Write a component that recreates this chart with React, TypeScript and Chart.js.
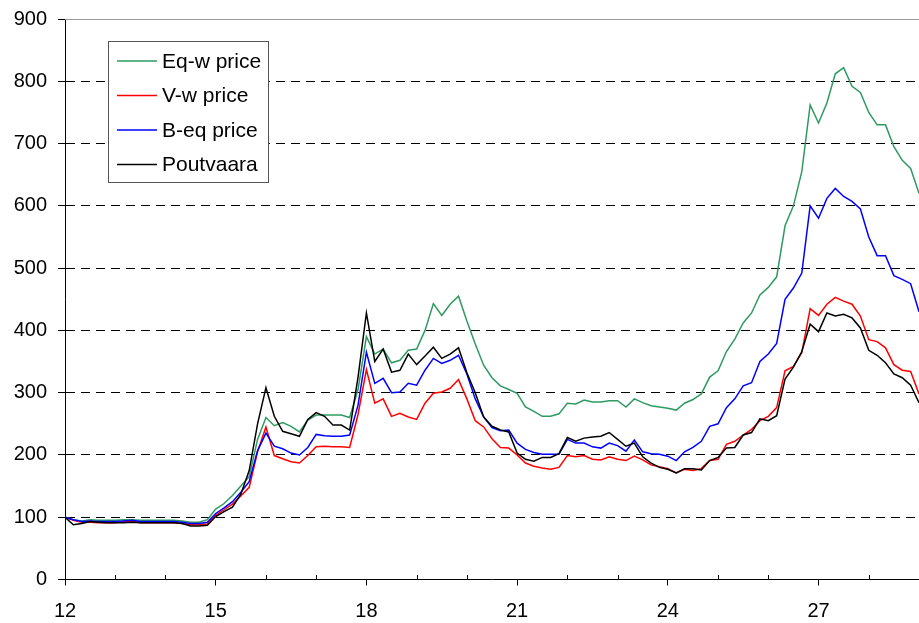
import React, { useEffect, useRef } from "react";
import { Chart, registerables } from "chart.js";

Chart.register(...registerables);

// x grid: one observation every 1/6 unit, from 12 to 29
const X_START = 12;
const X_STEP = 1 / 6;

const seriesNames = ["Eq-w price", "V-w price", "B-eq price", "Poutvaara"];
const seriesColors = ["#2E9A62", "#FF0000", "#0000FF", "#000000"];
const xTickLabels = [12, 15, 18, 21, 24, 27];

const eqwPrice = [
  100, 96, 94, 96, 95, 95, 95, 96, 96, 95, 95, 95, 95, 95, 94, 92, 92, 96,
  113, 122, 135, 150, 165, 225, 260, 247, 252, 246, 237, 256, 264, 264, 264, 264, 260, 305,
  390, 362, 370, 348, 352, 368, 370, 400, 443, 424, 442, 455, 415, 378, 344, 324, 311, 305,
  299, 277, 270, 262, 262, 266, 283, 282, 288, 285, 285, 287, 287, 277, 290, 284, 279, 277,
  275, 272, 283, 289, 298, 325, 335, 366, 386, 412, 428, 457, 469, 486, 568, 600, 655,
  762, 733, 765, 812, 822, 792, 782, 750, 730, 730, 695, 673, 660, 620,
];

const vwPrice = [
  100, 95, 92, 92, 91, 91, 91, 93, 94, 91, 91, 91, 91, 91, 90, 88, 88, 89,
  103, 112, 121, 134, 148, 205, 245, 199, 194, 189, 187, 199, 213, 214, 213, 213, 212, 265,
  337, 283, 290, 262, 267, 261, 257, 283, 299, 301, 307, 321, 290, 255, 245, 226, 212, 211,
  200, 187, 182, 179, 177, 180, 199, 197, 199, 193, 192, 197, 193, 191, 198, 192, 184, 181,
  178, 171, 177, 175, 178, 191, 193, 217, 222, 232, 241, 255, 262, 276, 335, 342, 364,
  435, 424, 442, 453, 447, 442, 423, 385, 382, 372, 345, 336, 334, 298,
];

const beqPrice = [
  100, 96, 93, 94, 93, 93, 93, 94, 95, 93, 93, 93, 93, 93, 92, 90, 90, 92,
  106, 115, 125, 140, 157, 207, 235, 214, 210, 203, 200, 212, 233, 231, 230, 230, 232, 280,
  365, 315, 323, 300, 301, 315, 312, 336, 355, 347, 352, 360, 330, 290, 261, 244, 239, 240,
  219, 209, 204, 201, 201, 201, 225, 219, 219, 213, 211, 219, 215, 206, 224, 205, 202, 201,
  198, 191, 205, 212, 222, 246, 250, 276, 290, 311, 316, 350, 362, 379, 450, 468, 492,
  600, 580, 612, 628, 615, 607, 595, 550, 520, 520, 488, 482, 475, 430,
];

const poutvaara = [
  100, 88, 90, 93, 92, 91, 91, 91, 92, 91, 91, 91, 91, 91, 90, 86, 86, 87,
  101, 109, 116, 137, 175, 250, 308, 262, 238, 234, 230, 257, 268, 262, 248, 248, 240, 325,
  428, 350, 370, 333, 336, 362, 345, 359, 373, 355, 362, 372, 332, 300, 261, 246, 240, 237,
  203, 193, 190, 196, 196, 202, 228, 222, 227, 229, 230, 236, 225, 214, 219, 197, 187, 180,
  177, 171, 178, 178, 176, 191, 196, 211, 212, 232, 236, 258, 255, 263, 322, 341, 366,
  410, 398, 428, 423, 426, 420, 404, 368, 360, 348, 330, 324, 312, 284,
];

const allSeries = [eqwPrice, vwPrice, beqPrice, poutvaara];

const FONT = "'Liberation Sans', Arial, Helvetica, sans-serif";

function toPoints(vals: number[]) {
  return vals.map((v, i) => ({ x: X_START + i * X_STEP, y: v }));
}

const decorPlugin = {
  id: "decor",
  afterDraw(chart: any) {
    const { ctx, chartArea, scales } = chart;
    const xs = scales.x;
    ctx.save();
    // solid grey top line (at 900)
    ctx.strokeStyle = "#9a9a9a";
    ctx.lineWidth = 1;
    ctx.setLineDash([]);
    const topY = Math.round(chartArea.top) + 0.5;
    ctx.beginPath();
    ctx.moveTo(chartArea.left, topY);
    ctx.lineTo(chartArea.right, topY);
    ctx.stroke();

    // minor inward ticks on x axis
    ctx.strokeStyle = "#000";
    const bottom = Math.round(chartArea.bottom);
    ctx.beginPath();
    for (let v = X_START + 1; v < 29; v++) {
      if (xTickLabels.includes(v)) continue;
      const px = Math.round(xs.getPixelForValue(v)) + 0.5;
      ctx.moveTo(px, bottom);
      ctx.lineTo(px, bottom - 5);
    }
    ctx.stroke();

    // legend box
    const bx = 108.5, by = 41.5, bw = 160, bh = 141;
    ctx.fillStyle = "#fff";
    ctx.fillRect(bx, by, bw, bh);
    ctx.strokeStyle = "#555";
    ctx.lineWidth = 1;
    ctx.strokeRect(bx, by, bw, bh);
    ctx.font = `21px ${FONT}`;
    ctx.textBaseline = "middle";
    ctx.textAlign = "left";
    chart.data.datasets.forEach((ds: any, i: number) => {
      const y = 61 + i * 34.5;
      ctx.strokeStyle = ds.borderColor;
      ctx.lineWidth = 1.5;
      ctx.beginPath();
      ctx.moveTo(117, y);
      ctx.lineTo(157, y);
      ctx.stroke();
      ctx.fillStyle = "#000";
      ctx.fillText(ds.label, 162, y + 1);
    });
    ctx.restore();
  },
};

export default function App() {
  const canvasRef = useRef<HTMLCanvasElement | null>(null);

  useEffect(() => {
    if (!canvasRef.current) return;
    const drawOrder = [3, 2, 1, 0];
    const chart = new Chart(canvasRef.current, {
      type: "line",
      data: {
        datasets: allSeries.map((vals, i) => ({
          label: seriesNames[i],
          data: toPoints(vals),
          borderColor: seriesColors[i],
          backgroundColor: seriesColors[i],
          borderWidth: 1.5,
          pointRadius: 0,
          tension: 0,
          fill: false,
          order: drawOrder[i],
        })),
      },
      options: {
        responsive: false,
        maintainAspectRatio: false,
        animation: false,
        layout: { padding: { top: 19, left: 0, right: 0, bottom: 0 } },
        plugins: {
          legend: { display: false },
          tooltip: { enabled: false },
        },
        scales: {
          x: {
            type: "linear",
            min: 12,
            max: 29,
            afterFit: (s: any) => {
              s.height = 43.5;
              s.paddingRight = 0;
              s.paddingLeft = 0;
            },
            ticks: {
              stepSize: 1,
              autoSkip: false,
              maxRotation: 0,
              padding: 14,
              color: "#000",
              font: { family: FONT, size: 20 },
              callback: (v: any) => (xTickLabels.includes(Number(v)) ? String(v) : ""),
            },
            grid: {
              drawOnChartArea: false,
              tickLength: 6,
              tickColor: (c: any) => (xTickLabels.includes(c.tick?.value) ? "#000" : "rgba(0,0,0,0)"),
              color: "#000",
            },
            border: { display: true, color: "#000", width: 1 },
          },
          y: {
            min: 0,
            max: 900,
            afterFit: (s: any) => {
              s.width = 65;
              s.paddingTop = 0;
              s.paddingBottom = 0;
            },
            ticks: {
              stepSize: 100,
              padding: 11,
              color: "#000",
              font: { family: FONT, size: 20 },
            },
            grid: {
              drawOnChartArea: true,
              tickLength: 7,
              tickColor: "#000",
              lineWidth: 1,
              color: (c: any) => {
                const v = c.tick?.value;
                return v === 0 || v === 900 ? "rgba(0,0,0,0)" : "#000";
              },
            },
            border: { display: true, color: "#000", width: 1, dash: [9, 6] },
          },
        },
      },
      plugins: [decorPlugin],
    });
    return () => chart.destroy();
  }, []);

  return (
    <div style={{ position: "fixed", left: 0, top: 0, width: 919, height: 623, background: "#fff" }}>
      <canvas ref={canvasRef} width={919} height={623} style={{ display: "block" }} />
    </div>
  );
}
